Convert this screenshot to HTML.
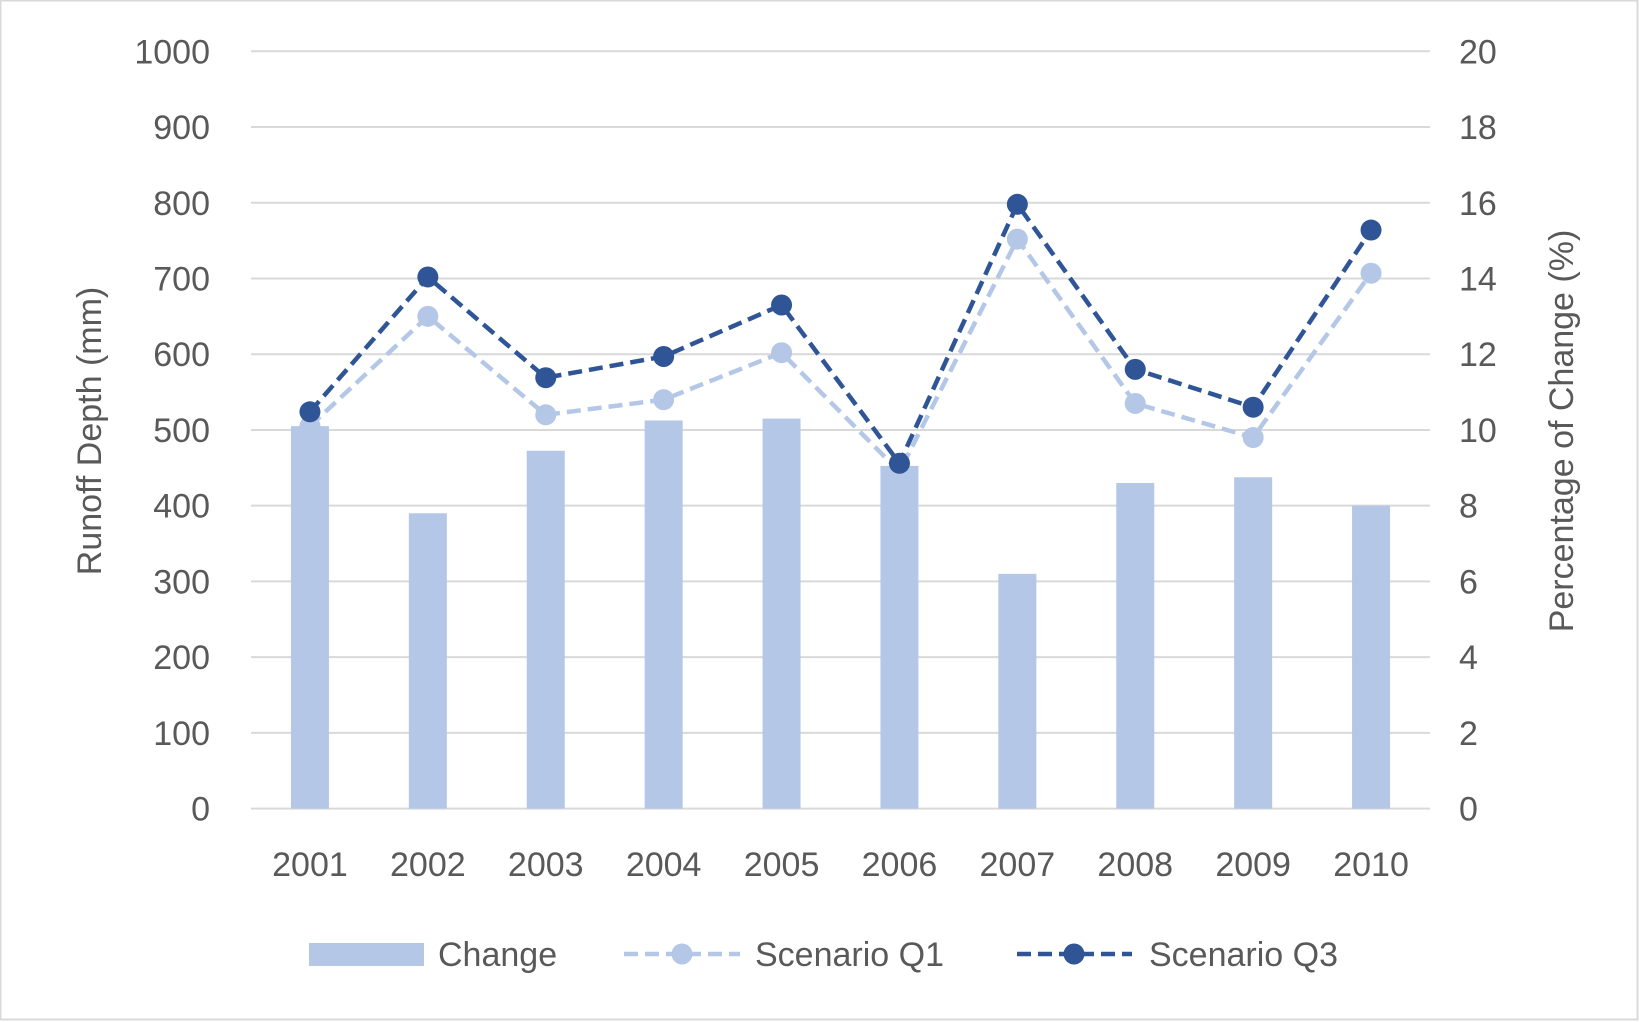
<!DOCTYPE html>
<html><head><meta charset="utf-8"><style>
html,body{margin:0;padding:0;background:#fff}
svg{display:block;font-family:"Liberation Sans",Calibri,sans-serif}
</style></head><body>
<svg id="chart" width="1640" height="1022">
<rect x="0.5" y="0.5" width="1637" height="1019" fill="#fff" stroke="#d9d9d9" stroke-width="2"/>
<g id="grid"></g><g id="bars"></g><g id="lines"></g><g id="labels"></g>
<text transform="translate(101,431) rotate(-90)" text-anchor="middle" font-size="34" fill="#595959">Runoff Depth (mm)</text>
<text transform="translate(1573,431) rotate(-90)" text-anchor="middle" font-size="34" fill="#595959">Percentage of Change (%)</text>
<g>
<g><rect x="309" y="943" width="115" height="23" fill="#b4c7e7"/><text x="438" y="966" font-size="34" fill="#595959">Change</text></g>
<g><line x1="624" y1="954" x2="740" y2="954" stroke="#b4c7e7" stroke-width="4.5" stroke-dasharray="14,7"/><circle cx="682" cy="954" r="10.5" fill="#b4c7e7"/><text x="755" y="966" font-size="34" fill="#595959">Scenario Q1</text></g>
<g><line x1="1017" y1="954" x2="1132" y2="954" stroke="#2f5597" stroke-width="4.5" stroke-dasharray="14,7"/><circle cx="1074" cy="954" r="10.5" fill="#2f5597"/><text x="1149" y="966" font-size="34" fill="#595959">Scenario Q3</text></g>
</g>
</svg>
<script>
const years=["2001","2002","2003","2004","2005","2006","2007","2008","2009","2010"];
const changePct=[10.1,7.8,9.45,10.25,10.3,9.05,6.2,8.6,8.75,8.0];
const q1=[505,650,520,540,602,445,752,535,490,707];
const q3=[524,702,569,597,665,456,798,580,530,764];
const leftTicks=[0,100,200,300,400,500,600,700,800,900,1000];
const rightTicks=[0,2,4,6,8,10,12,14,16,18,20];
const NS="http://www.w3.org/2000/svg";
const L=251,R=1430,T=51.3,B=808.6,bw=(R-L)/years.length;
const yL=v=>B-(v/1000)*(B-T), yR=v=>B-(v/20)*(B-T), xC=i=>L+bw*(i+0.5);
function mk(p,tag,a){const e=document.createElementNS(NS,tag);for(const k in a)e.setAttribute(k,a[k]);document.getElementById(p).appendChild(e);return e;}
leftTicks.forEach((t,i)=>{
 const g=mk('grid','line',{x1:L,x2:R,y1:yL(t),y2:yL(t),stroke:'#d9d9d9','stroke-width':2});
 
 
 const a=mk('labels','text',{x:210,y:yL(t)+12,'text-anchor':'end','font-size':34,fill:'#595959'});a.textContent=t;
 
 
});
rightTicks.forEach(t=>{
 const a=mk('labels','text',{x:1459,y:yR(t)+12,'font-size':34,fill:'#595959'});a.textContent=t;
 
 
});
years.forEach((y,i)=>{
 const a=mk('labels','text',{x:xC(i),y:876,'text-anchor':'middle','font-size':34,fill:'#595959'});a.textContent=y;
 
 
 const b=mk('bars','rect',{x:xC(i)-19,y:yR(changePct[i]),width:38,height:B-yR(changePct[i]),fill:'#b4c7e7'});
 
 
});
[[q1,'#b4c7e7','q1'],[q3,'#2f5597','q3']].forEach(([d,c,n])=>{
 const p=mk('lines','polyline',{points:d.map((v,i)=>xC(i)+','+yL(v)).join(' '),fill:'none',stroke:c,'stroke-width':4.5,'stroke-dasharray':'14,7'});
 
 
 d.forEach((v,i)=>{const m=mk('lines','circle',{cx:xC(i),cy:yL(v),r:10.5,fill:c});
  
  });
});
</script>
</body></html>
